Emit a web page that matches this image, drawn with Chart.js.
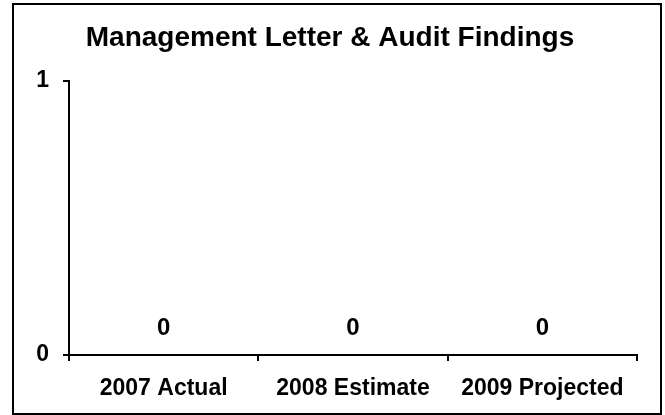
<!DOCTYPE html>
<html>
<head>
<meta charset="utf-8">
<script src="https://cdn.jsdelivr.net/npm/chart.js@4/dist/chart.umd.min.js"></script>
<style>
  html, body { margin: 0; padding: 0; background: #fff; }
  #wrap { width: 665px; height: 415px; }
</style>
</head>
<body>
<div id="wrap"><canvas id="grafico" width="665" height="415"></canvas></div>
<script>
const categorias = ['2007 Actual', '2008 Estimate', '2009 Projected'];
const hallazgos = [0, 0, 0];
const ticksY = [0, 1];

const fuente = "'Liberation Sans', Arial, sans-serif";

// Marco negro alrededor de todo el grafico
const marco = {
    id: 'marco',
    afterDraw(chart) {
        const ctx = chart.ctx;
        ctx.save();
        ctx.strokeStyle = '#000';
        ctx.lineWidth = 2;
        ctx.strokeRect(13, 4, 648, 410);
        ctx.restore();
    }
};

// Etiquetas de valor encima de cada barra
const etiquetas = {
    id: 'etiquetas',
    afterDatasetsDraw(chart) {
        const ctx = chart.ctx;
        const x = chart.scales.x;
        const y = chart.scales.y;
        ctx.save();
        ctx.font = 'bold 24px ' + fuente;
        ctx.fillStyle = '#000';
        ctx.textAlign = 'center';
        ctx.textBaseline = 'middle';
        hallazgos.forEach((v, i) => {
            ctx.fillText(String(v), x.getPixelForValue(i), y.getPixelForValue(v) - 27);
        });
        ctx.restore();
    }
};

new Chart(document.getElementById('grafico').getContext('2d'), {
    type: 'bar',
    data: {
        labels: categorias,
        datasets: [{
            data: hallazgos,
            backgroundColor: '#333399',
            borderWidth: 0
        }]
    },
    options: {
        responsive: false,
        animation: false,
        layout: { padding: { top: 2, left: 23, right: 28, bottom: 5 } },
        plugins: {
            legend: { display: false },
            tooltip: { enabled: false },
            title: {
                display: true,
                text: 'Management Letter & Audit Findings',
                color: '#000',
                font: { family: fuente, size: 28, weight: 'bold', lineHeight: 1.2 },
                padding: { top: 19.2, bottom: 26.2 }
            }
        },
        scales: {
            x: {
                grid: { offset: true, drawOnChartArea: false, drawTicks: true, tickLength: 6, color: '#000', lineWidth: 2 },
                border: { display: true, color: '#000', width: 2 },
                ticks: { color: '#000', padding: 14, maxRotation: 0, font: { family: fuente, size: 23, weight: 'bold' } },
                afterFit: s => { s.height = 55; }
            },
            y: {
                min: 0,
                max: 1,
                afterBuildTicks: s => { s.ticks = ticksY.map(v => ({ value: v })); },
                grid: { drawOnChartArea: false, drawTicks: true, tickLength: 6, color: '#000', lineWidth: 2 },
                border: { display: true, color: '#000', width: 2 },
                ticks: { color: '#000', padding: 14, font: { family: fuente, size: 23, weight: 'bold' } },
                afterFit: s => { s.width = 46; }
            }
        }
    },
    plugins: [marco, etiquetas]
});
</script>
</body>
</html>
